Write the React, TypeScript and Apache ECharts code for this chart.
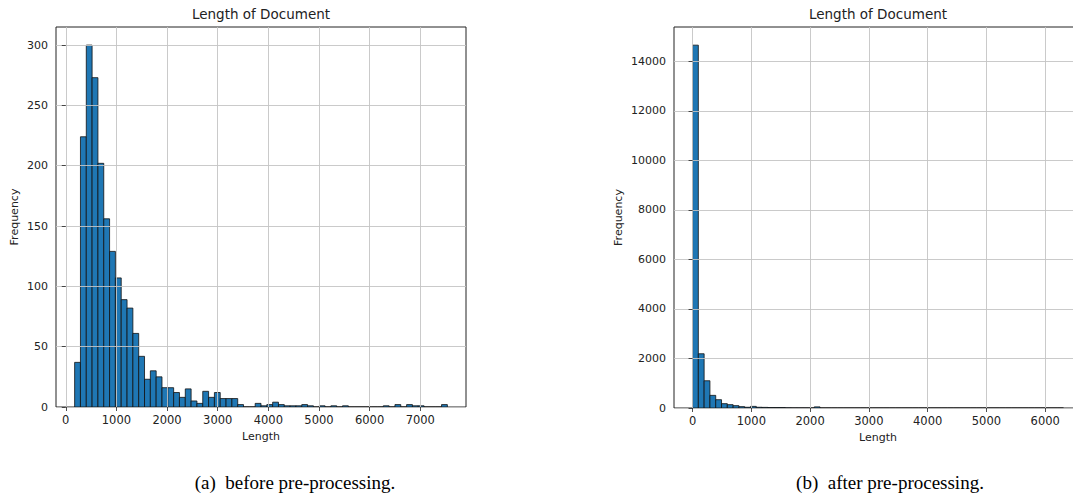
import React, { useEffect, useRef } from "react";
import * as echarts from "echarts";

// ---------- data ----------
const titleText = "Length of Document";
const xAxisName = "Length";
const yAxisName = "Frequency";
const captionA = "(a)  before pre-processing.";
const captionB = "(b)  after pre-processing.";

// (a) before pre-processing: 64 bins
const beforeBinStart = 175;
const beforeBinWidth = 115;
const beforeCounts = [
  37, 224, 300, 273, 202, 156, 129, 107, 89, 82, 61, 42, 23, 30, 25, 16,
  16, 12, 8, 15, 5, 3, 13, 8, 12, 7, 7, 7, 2, 0, 0, 3,
  1, 2, 4, 2, 1, 1, 1, 2, 1, 0, 1, 0, 1, 0, 1, 0,
  0, 0, 0, 0, 0, 1, 0, 2, 0, 2, 1, 1, 0, 0, 0, 2,
];
const beforeXTicks = [0, 1000, 2000, 3000, 4000, 5000, 6000, 7000];
const beforeYTicks = [0, 50, 100, 150, 200, 250, 300];

// (b) after pre-processing: 64 bins
const afterBinStart = 0;
const afterBinWidth = 98.6;
const afterCounts = [
  14650, 2190, 1100, 510, 335, 175, 135, 95, 55, 30, 65, 30, 25, 20, 20, 20,
  5, 3, 2, 2, 1, 45, 0, 0, 0, 0, 0, 0, 0, 0, 0, 0,
  0, 0, 0, 0, 0, 0, 0, 0, 0, 0, 0, 0, 0, 0, 0, 0,
  0, 0, 0, 0, 0, 0, 0, 0, 0, 0, 0, 0, 0, 0, 0, 1,
];
const afterXTicks = [0, 1000, 2000, 3000, 4000, 5000, 6000];
const afterYTicks = [0, 2000, 4000, 6000, 8000, 10000, 12000, 14000];

// ---------- helpers ----------
const FONT = "'DejaVu Sans', sans-serif";
const TEXT = "#222";
const plain = (v: number) => String(v);

function bins(start: number, width: number, counts: number[]) {
  return counts.map((c, i) => [start + i * width, start + (i + 1) * width, c]);
}

function xRange(start: number, width: number, n: number) {
  const end = start + width * n;
  const pad = 0.05 * (end - start);
  return [start - pad, end + pad];
}

function xAxisCfg(grid: number, range: number[], ticks: number[]) {
  return {
    type: "value",
    gridIndex: grid,
    min: range[0],
    max: range[1],
    z: 5,
    name: xAxisName,
    nameLocation: "middle",
    nameGap: 24,
    nameTextStyle: { fontSize: 11, color: TEXT, fontFamily: FONT },
    axisLine: { show: false },
    axisTick: {
      show: true,
      inside: false,
      length: 4,
      customValues: ticks,
      lineStyle: { color: TEXT, width: 0.8 },
    },
    axisLabel: {
      customValues: ticks,
      formatter: plain,
      margin: 7,
      fontSize: 11.5,
      color: TEXT,
      fontFamily: FONT,
    },
    splitLine: { show: true, lineStyle: { color: "#c4c4c4", width: 0.9 } },
  };
}

function yAxisCfg(grid: number, max: number, ticks: number[], gap: number) {
  return {
    type: "value",
    gridIndex: grid,
    min: 0,
    max,
    z: 5,
    name: yAxisName,
    nameLocation: "middle",
    nameGap: gap,
    nameTextStyle: { fontSize: 11, color: TEXT, fontFamily: FONT },
    axisLine: { show: false },
    axisTick: {
      show: true,
      inside: false,
      length: 4,
      customValues: ticks,
      lineStyle: { color: TEXT, width: 0.8 },
    },
    axisLabel: {
      customValues: ticks,
      formatter: plain,
      margin: 8,
      fontSize: 11,
      color: TEXT,
      fontFamily: FONT,
    },
    splitLine: { show: true, lineStyle: { color: "#c4c4c4", width: 0.9 } },
  };
}

function histSeries(idx: number, data: number[][]) {
  return {
    type: "custom",
    xAxisIndex: idx,
    yAxisIndex: idx,
    z: 2,
    clip: false,
    encode: { x: [0, 1], y: 2 },
    data,
    renderItem: (_params: any, api: any) => {
      const p0 = api.coord([api.value(0), api.value(2)]);
      const p1 = api.coord([api.value(1), 0]);
      return {
        type: "rect",
        shape: { x: p0[0], y: p0[1], width: p1[0] - p0[0], height: p1[1] - p0[1] },
        style: { fill: "#1f77b4", stroke: "#111", lineWidth: 0.8 },
      };
    },
  };
}

export default function App() {
  const ref = useRef<HTMLDivElement>(null);

  useEffect(() => {
    if (!ref.current) return;
    const chart = echarts.init(ref.current, undefined, { renderer: "svg" });

    const bRange = xRange(beforeBinStart, beforeBinWidth, beforeCounts.length);
    const aRange = xRange(afterBinStart, afterBinWidth, afterCounts.length);
    const bMax = Math.max(...beforeCounts) * 1.05;
    const aMax = Math.max(...afterCounts) * 1.05;

    chart.setOption({
      animation: false,
      backgroundColor: "#fff",
      grid: [
        { left: 56, top: 27, width: 410, height: 380, show: true, borderColor: "#222", borderWidth: 1, containLabel: false, outerBoundsMode: "none" },
        { left: 674, top: 27, width: 408, height: 381, show: true, borderColor: "#222", borderWidth: 1, containLabel: false, outerBoundsMode: "none" },
      ],
      xAxis: [xAxisCfg(0, bRange, beforeXTicks), xAxisCfg(1, aRange, afterXTicks)],
      yAxis: [yAxisCfg(0, bMax, beforeYTicks, 36), yAxisCfg(1, aMax, afterYTicks, 50)],
      series: [
        histSeries(0, bins(beforeBinStart, beforeBinWidth, beforeCounts)),
        histSeries(1, bins(afterBinStart, afterBinWidth, afterCounts)),
      ],
      graphic: [
        {
          type: "text",
          x: 261,
          y: 14,
          style: { text: titleText, fontSize: 13.5, fontFamily: FONT, fill: TEXT, align: "center", verticalAlign: "middle" },
        },
        {
          type: "text",
          x: 878,
          y: 14,
          style: { text: titleText, fontSize: 13.5, fontFamily: FONT, fill: TEXT, align: "center", verticalAlign: "middle" },
        },
        {
          type: "text",
          x: 295,
          y: 482,
          style: { text: captionA, fontSize: 19, fontFamily: "'Liberation Serif', serif", fill: "#000", align: "center", verticalAlign: "middle" },
        },
        {
          type: "text",
          x: 890,
          y: 482,
          style: { text: captionB, fontSize: 19, fontFamily: "'Liberation Serif', serif", fill: "#000", align: "center", verticalAlign: "middle" },
        },
      ],
    });

    return () => chart.dispose();
  }, []);

  return (
    <div
      ref={ref}
      style={{ position: "absolute", left: 0, top: 0, width: 1073, height: 495 }}
    />
  );
}
